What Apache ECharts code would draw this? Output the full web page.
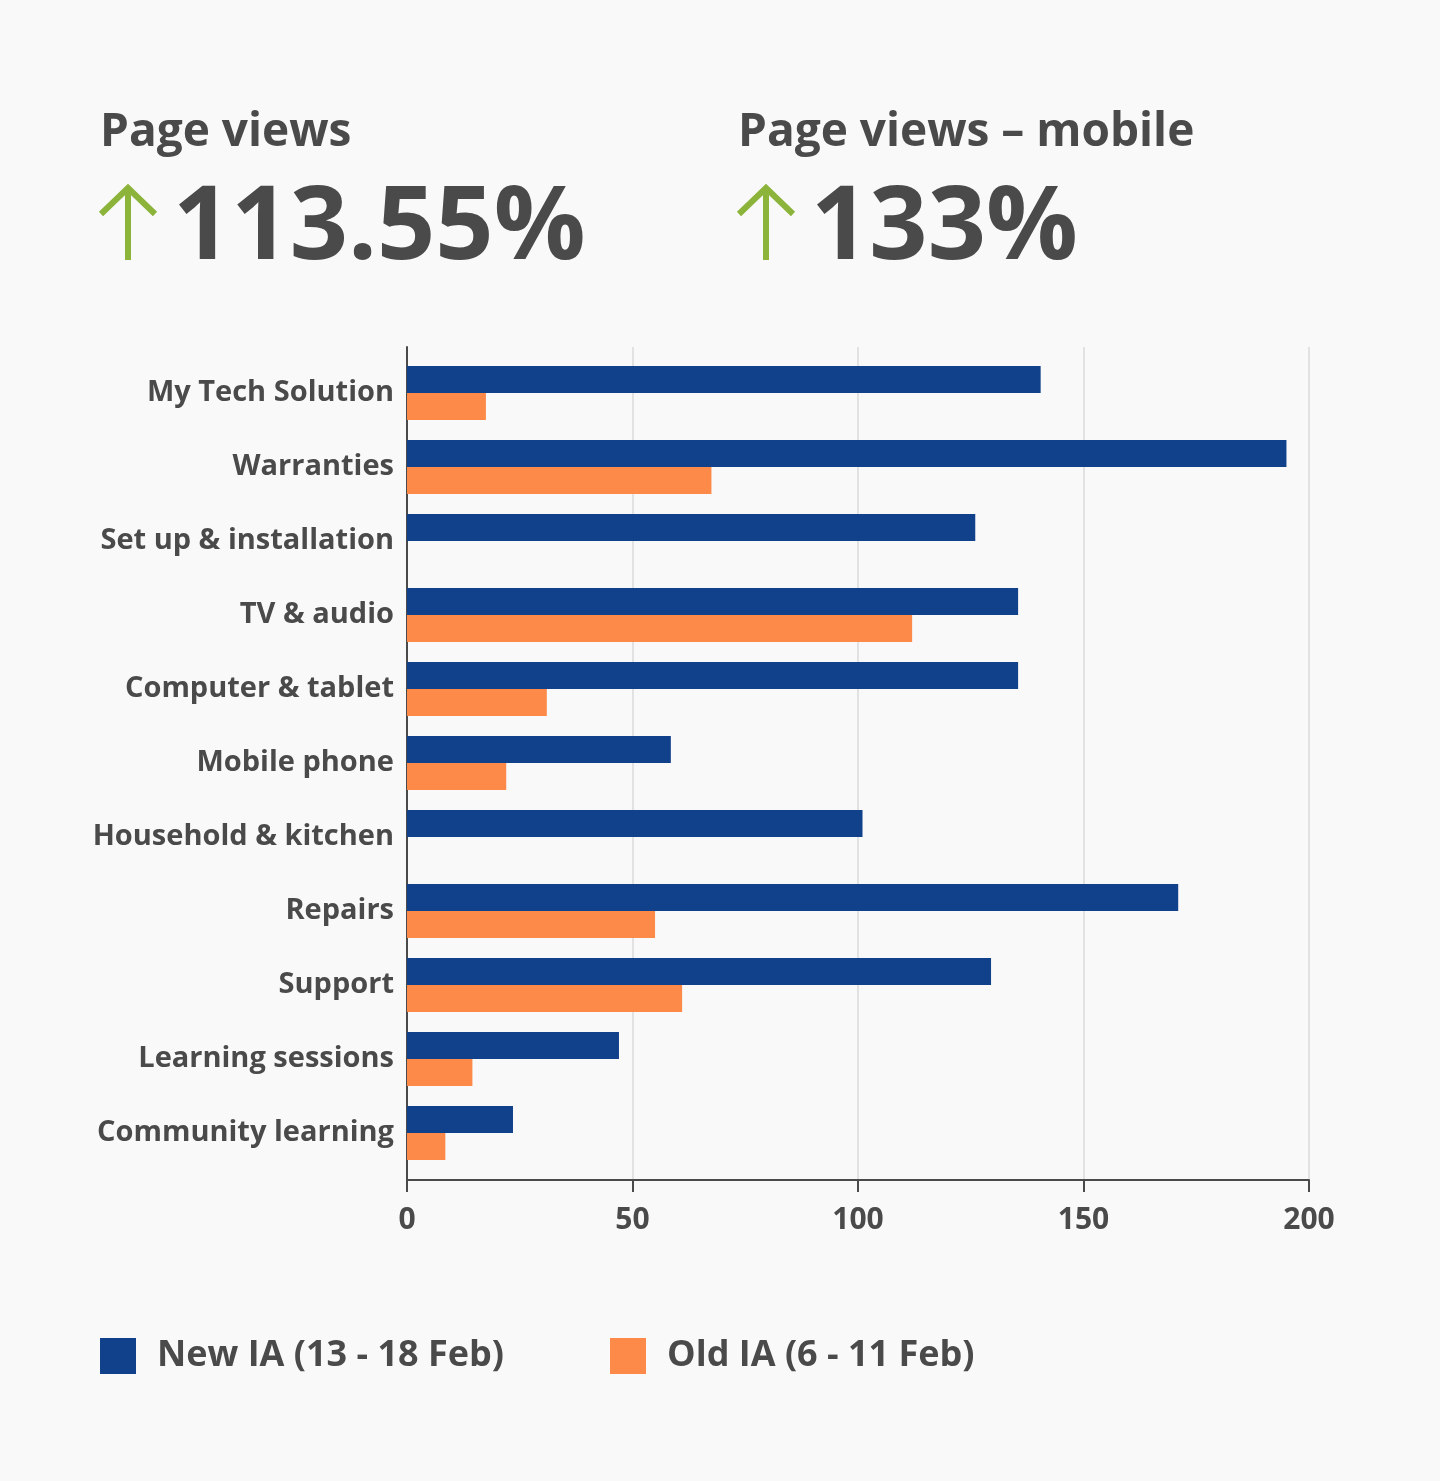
<!DOCTYPE html>
<html>
<head>
<meta charset="utf-8">
<script src="https://cdn.jsdelivr.net/npm/echarts@6/dist/echarts.min.js"></script>
<style>
html,body{margin:0;padding:0;background:#f9f9f9;}
#chart{width:1440px;height:1481px;}
</style>
</head>
<body>
<div id="chart"></div>
<script>
var categories = ["My Tech Solution","Warranties","Set up & installation","TV & audio","Computer & tablet","Mobile phone","Household & kitchen","Repairs","Support","Learning sessions","Community learning"];
var newIA = [140.5, 195, 126, 135.5, 135.5, 58.5, 101, 171, 129.5, 47, 23.5];
var oldIA = [17.5, 67.5, 0, 112, 31, 22, 0, 55, 61, 14.5, 8.5];
var seriesNames = ["New IA (13 - 18 Feb)", "Old IA (6 - 11 Feb)"];
var xTicks = {min: 0, max: 200, interval: 50};
var headline1 = {title: "Page views", value: "113.55%"};
var headline2 = {title: "Page views \u2013 mobile", value: "133%"};

var FONT = 'Open Sans';
var TXT = '#4a4a4a';
var BLUE = '#10418a';
var ORANGE = '#fd8a48';
var GREEN = '#8cb43a';

function arrow(x){
  return [
    {type:'line', shape:{x1:x, y1:190, x2:x, y2:260}, style:{stroke:GREEN, lineWidth:6}},
    {type:'polyline', shape:{points:[[x-27,214],[x,188],[x+27,214]]}, style:{stroke:GREEN, lineWidth:6, fill:null}}
  ];
}

var chart = echarts.init(document.getElementById('chart'));
chart.setOption({
  backgroundColor: '#f9f9f9',
  animation: false,
  graphic: [
    {type:'text', left:100, top:110, style:{text:headline1.title, font:'bold 46px "'+FONT+'"', fill:TXT}},
    {type:'text', left:738, top:110, style:{text:headline2.title, font:'bold 46px "'+FONT+'"', fill:TXT}},
    {type:'text', left:173, top:179, style:{text:headline1.value, font:'bold 102px "'+FONT+'"', fill:TXT}},
    {type:'text', left:811, top:179, style:{text:headline2.value, font:'bold 102px "'+FONT+'"', fill:TXT}}
  ].concat(arrow(128)).concat(arrow(766)),
  legend: [
    {left:100, top:1338, padding:0, itemWidth:36, itemHeight:36, icon:'rect', data:[seriesNames[0]],
     textStyle:{fontFamily:FONT, fontWeight:'bold', fontSize:36, color:TXT, padding:[0,0,0,16]}},
    {left:610, top:1338, padding:0, itemWidth:36, itemHeight:36, icon:'rect', data:[seriesNames[1]],
     textStyle:{fontFamily:FONT, fontWeight:'bold', fontSize:36, color:TXT, padding:[0,0,0,16]}}
  ],
  grid: [
    {left:407, right:131, top:347, bottom:301},
    {left:407, right:131, top:356, bottom:311}
  ],
  xAxis: [
    {type:'value', gridIndex:0, min:xTicks.min, max:xTicks.max, interval:xTicks.interval,
     axisLine:{show:true, lineStyle:{color:TXT, width:2}},
     axisTick:{show:true, length:12, lineStyle:{color:TXT, width:2}},
     axisLabel:{fontFamily:FONT, fontWeight:'bold', fontSize:30, color:TXT, margin:25},
     splitLine:{show:true, lineStyle:{color:'#e2e2e2', width:2}}},
    {type:'value', gridIndex:1, min:xTicks.min, max:xTicks.max, show:false}
  ],
  yAxis: [
    {type:'value', gridIndex:0, axisLine:{show:true, onZero:false, lineStyle:{color:TXT, width:2}},
     axisTick:{show:false}, axisLabel:{show:false}, splitLine:{show:false}},
    {type:'category', gridIndex:1, inverse:true, data:categories,
     axisLine:{show:false}, axisTick:{show:false},
     axisLabel:{fontFamily:FONT, fontWeight:'bold', fontSize:29, color:TXT, margin:13}}
  ],
  series: [
    {name:seriesNames[0], type:'bar', xAxisIndex:1, yAxisIndex:1, data:newIA, barWidth:27, barGap:'0%', itemStyle:{color:BLUE}},
    {name:seriesNames[1], type:'bar', xAxisIndex:1, yAxisIndex:1, data:oldIA, barWidth:27, barGap:'0%', itemStyle:{color:ORANGE}}
  ]
});
</script>
</body>
</html>
